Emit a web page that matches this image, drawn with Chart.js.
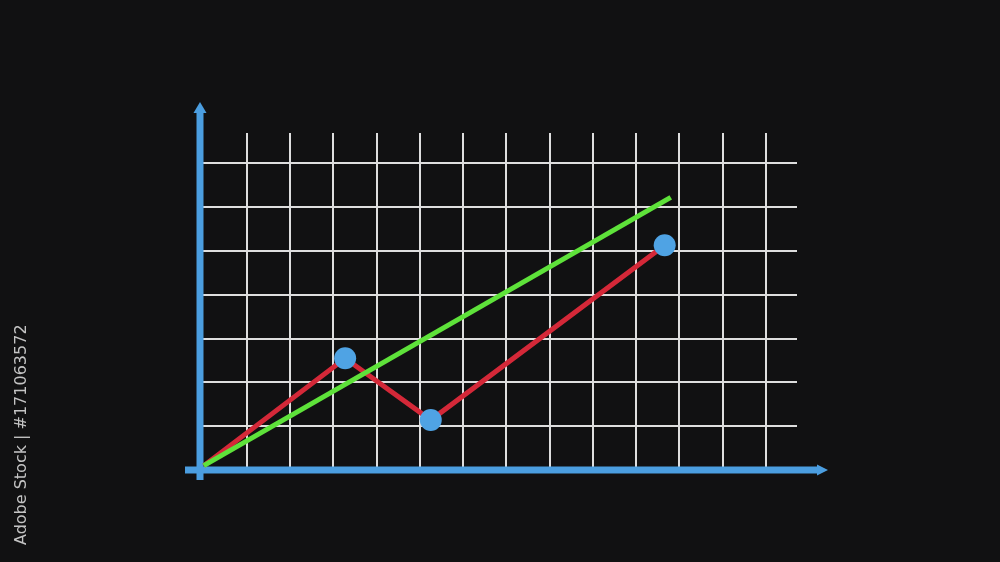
<!DOCTYPE html>
<html>
<head>
<meta charset="utf-8">
<script src="https://cdn.jsdelivr.net/npm/chart.js@4.4.1/dist/chart.umd.min.js"></script>
<style>
  html, body { margin: 0; padding: 0; background: #111112; }
  #wrap { width: 1000px; height: 562px; position: relative; }
</style>
</head>
<body>
<div id="wrap"><canvas id="c" width="1000" height="562"></canvas></div>
<script>
// ---- data ----
const xGridValues = [1, 2, 3, 4, 5, 6, 7, 8, 9, 10, 11, 12, 13];
const yGridValues = [1, 2, 3, 4, 5, 6, 7];
const redX = [0, 3.27, 5.25, 10.66];
const redY = [0.1, 2.55, 1.14, 5.13];
const greenX = [0, 10.8];
const greenY = [0.1, 6.22];
const dotX = [3.27, 5.25, 10.66];
const dotY = [2.55, 1.14, 5.13];
const sideLabel = "Adobe Stock | #171063572";

const toPts = (xs, ys) => xs.map((x, i) => ({ x: x, y: ys[i] }));

const AXIS_BLUE = '#4b9ee0';

const axesPlugin = {
  id: 'axesArrows',
  beforeDatasetsDraw(chart) {
    const ctx = chart.ctx;
    const a = chart.chartArea;
    const x0 = a.left, y0 = a.bottom;
    ctx.save();
    ctx.strokeStyle = AXIS_BLUE;
    ctx.fillStyle = AXIS_BLUE;
    ctx.lineWidth = 7;
    ctx.lineCap = 'butt';
    // y axis
    ctx.beginPath();
    ctx.moveTo(x0, y0 + 10);
    ctx.lineTo(x0, a.top - 20);
    ctx.stroke();
    ctx.beginPath();
    ctx.moveTo(x0 - 6.5, a.top - 20);
    ctx.lineTo(x0 + 6.5, a.top - 20);
    ctx.lineTo(x0, a.top - 31);
    ctx.closePath();
    ctx.fill();
    // x axis
    ctx.beginPath();
    ctx.moveTo(x0 - 15, y0);
    ctx.lineTo(a.right + 20, y0);
    ctx.stroke();
    ctx.beginPath();
    ctx.moveTo(a.right + 20, y0 - 5.5);
    ctx.lineTo(a.right + 20, y0 + 5.5);
    ctx.lineTo(a.right + 31, y0);
    ctx.closePath();
    ctx.fill();
    ctx.restore();
  },
  afterDraw(chart) {
    const ctx = chart.ctx;
    ctx.save();
    ctx.translate(22, 545);
    ctx.rotate(-Math.PI / 2);
    ctx.font = '16px "DejaVu Sans", sans-serif';
    ctx.fillStyle = '#c4c4c4';
    ctx.textBaseline = 'middle';
    ctx.textAlign = 'left';
    ctx.fillText(sideLabel, 0, 0);
    ctx.restore();
  }
};

const bgPlugin = {
  id: 'bg',
  beforeDraw(chart) {
    const ctx = chart.ctx;
    ctx.save();
    ctx.fillStyle = '#111112';
    ctx.fillRect(0, 0, chart.width, chart.height);
    ctx.restore();
  }
};

new Chart(document.getElementById('c'), {
  type: 'scatter',
  data: {
    datasets: [
      {
        label: 'dots',
        data: toPts(dotX, dotY),
        showLine: false,
        pointRadius: 11,
        pointHoverRadius: 11,
        pointBackgroundColor: '#4fa3e4',
        pointBorderWidth: 0,
        order: 0
      },
      {
        label: 'green',
        data: toPts(greenX, greenY),
        showLine: true,
        borderColor: '#5ee23a',
        borderWidth: 5,
        pointRadius: 0,
        borderCapStyle: 'butt',
        order: 1
      },
      {
        label: 'red',
        data: toPts(redX, redY),
        showLine: true,
        borderColor: '#d42838',
        borderWidth: 5,
        pointRadius: 0,
        borderJoinStyle: 'miter',
        order: 2
      }
    ]
  },
  options: {
    responsive: false,
    animation: false,
    events: [],
    layout: { padding: { left: 200, right: 203, top: 133, bottom: 92 } },
    plugins: { legend: { display: false }, tooltip: { enabled: false } },
    scales: {
      x: {
        type: 'linear',
        min: -0.087,
        max: 13.72,
        afterBuildTicks: (s) => { s.ticks = xGridValues.map(v => ({ value: v })); },
        ticks: { display: false },
        border: { display: false },
        grid: { color: '#dedede', lineWidth: 2, drawTicks: false, tickLength: 0 }
      },
      y: {
        type: 'linear',
        min: 0,
        max: 7.69,
        afterBuildTicks: (s) => { s.ticks = yGridValues.map(v => ({ value: v })); },
        ticks: { display: false },
        border: { display: false },
        grid: { color: '#dedede', lineWidth: 2, drawTicks: false, tickLength: 0 }
      }
    }
  },
  plugins: [bgPlugin, axesPlugin]
});
</script>
</body>
</html>
